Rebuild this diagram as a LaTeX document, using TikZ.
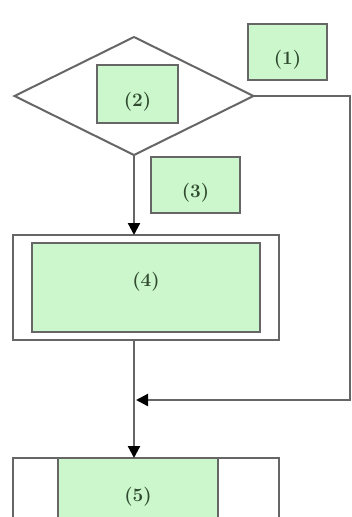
\documentclass[tikz,border=0pt]{standalone}
\usetikzlibrary{shapes.geometric,arrows.meta}

\definecolor{linegray}{HTML}{666666}
\definecolor{labgreen}{HTML}{CCF7CC}
\definecolor{labtext}{HTML}{2F4A2F}

\begin{document}
\begin{tikzpicture}[
    x=1pt,y=-1pt,
    every node/.style={inner sep=0pt,outer sep=0pt},
    label/.style={rectangle,draw=linegray,line width=1.4pt,fill=labgreen,
      text=labtext,font=\fontsize{19}{22}\selectfont\bfseries},
    sunk/.style={text height=30pt,text depth=5pt},
    raised/.style={text height=14pt,text depth=17pt},
    frame/.style={rectangle,draw=linegray,line width=2pt,fill=white},
    decision/.style={diamond,draw=linegray,line width=2pt,fill=white},
    flow/.style={draw=linegray,line width=2.2pt,-{Triangle[width=12pt,length=12pt,black]}}
    ]

    \useasboundingbox (0,0) rectangle (352,517);
    \clip (0,0) rectangle (352,517);

    \node (dec) [decision,minimum width=239,minimum height=118] at (134,96) {};

    \node (lab1) [label,sunk,minimum width=79,minimum height=56] at (287.5,52) {(1)};
    \node (lab2) [label,sunk,minimum width=81,minimum height=58] at (137.5,94) {(2)};
    \node (lab3) [label,sunk,minimum width=89,minimum height=56] at (195.5,185) {(3)};

    \node (box4) [frame,minimum width=266,minimum height=105] at (145.5,287.5) {};
    \node (in4) [label,raised,minimum width=228,minimum height=89] at (146,287.5) {(4)};

    \node (box5) [frame,minimum width=266,minimum height=78] at (145.5,497) {};
    \node (in5) [label,minimum width=160,minimum height=78] at (138,497) {(5)};

    \coordinate (corner) at (350,96);
    \coordinate (merge) at (136,400);

    \draw[flow] (dec.south) -- (dec.south |- box4.north);
    \draw[flow] (dec.south |- box4.south) -- (dec.south |- box5.north);
    \draw[flow] (dec.east) -- (corner) |- (merge);

  \end{tikzpicture}
\end{document}
